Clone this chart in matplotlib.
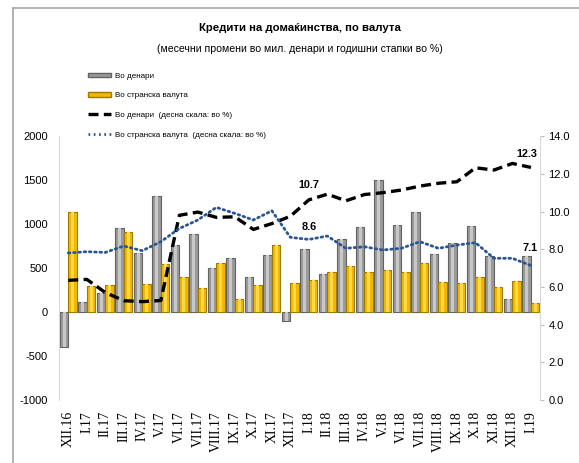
import matplotlib
matplotlib.use("Agg")
import matplotlib.pyplot as plt
import numpy as np
from matplotlib.lines import Line2D
from matplotlib.patches import Patch

categories = ["XII.16", "I.17", "II.17", "III.17", "IV.17", "V.17", "VI.17", "VII.17",
              "VIII.17", "IX.17", "X.17", "XI.17", "XII.17", "I.18", "II.18", "III.18",
              "IV.18", "V.18", "VI.18", "VII.18", "VIII.18", "IX.18", "X.18", "XI.18",
              "XII.18", "I.19"]
denar_change = [-400, 118, 222, 955, 672, 1315, 760, 888, 498, 618, 394, 650,
                -100, 722, 435, 833, 965, 1500, 990, 1143, 658, 790, 983, 636, 148, 642]
foreign_change = [1132, 297, 308, 915, 320, 550, 396, 270, 555, 143, 308, 765,
                  330, 370, 450, 526, 450, 473, 455, 560, 340, 328, 400, 290, 352, 100]
denar_growth = [6.35, 6.4, 5.7, 5.27, 5.22, 5.28, 9.8, 9.97, 9.69, 9.72, 9.05, 9.36,
                9.75, 10.62, 10.92, 10.57, 10.9, 11.0, 11.14, 11.35, 11.5, 11.58,
                12.32, 12.2, 12.55, 12.34]
foreign_growth = [7.8, 7.87, 7.83, 8.17, 7.92, 8.4, 9.1, 9.55, 10.22, 9.9, 9.55, 10.04,
                  8.63, 8.52, 8.7, 8.05, 8.13, 7.96, 8.05, 8.4, 8.05, 8.22, 8.35, 7.52,
                  7.52, 7.13]
left_ticks = [-1000, -500, 0, 500, 1000, 1500, 2000]
right_ticks = [0.0, 2.0, 4.0, 6.0, 8.0, 10.0, 12.0, 14.0]

title = "Кредити на домаќинства, по валута"
subtitle = "(месечни промени во мил. денари и годишни стапки во %)"
legend_labels = ["Во денари", "Во странска валута", "Во денари  (десна скала: во %)",
                 "Во странска валута  (десна скала: во %)"]

sans = ["Liberation Sans Narrow", "Liberation Sans", "DejaVu Sans"]
serif = ["Liberation Serif", "DejaVu Serif"]

fig = plt.figure(figsize=(5.79, 4.63), dpi=100)
ax = fig.add_axes([0.102, 0.136, 0.831, 0.570])
ax2 = ax.twinx()

x = np.arange(len(categories))
w = 0.46
gray_face, gray_edge, gray_light = "#9a9a9a", "#626262", "#c8c8c8"
gold_face, gold_edge, gold_light = "#f2b800", "#9c7a00", "#ffd84a"

ax.bar(x - w / 2, denar_change, width=w, color=gray_face, edgecolor=gray_edge, linewidth=0.8, zorder=2)
ax.bar(x - w / 2, denar_change, width=w * 0.35, color=gray_light, linewidth=0, zorder=3)
ax.bar(x + w / 2, foreign_change, width=w, color=gold_face, edgecolor=gold_edge, linewidth=0.8, zorder=2)
ax.bar(x + w / 2, foreign_change, width=w * 0.35, color=gold_light, linewidth=0, zorder=3)

ax.set_xlim(-0.5, len(categories) - 0.5)
ax.set_ylim(-1000, 2000)
ax.set_yticks(left_ticks)
ax.set_yticklabels([str(t) for t in left_ticks], family=sans, fontsize=8)
ax.tick_params(axis="y", length=0, pad=8)
ax.set_xticks(x)
ax.set_xticklabels(categories, rotation=90, family=serif, fontsize=10)
ax.tick_params(axis="x", length=0, pad=8)
for s in ["top", "right", "bottom"]:
    ax.spines[s].set_visible(False)
ax.spines["left"].set_color("#d9d9d9")

dash_style = (0, (3.0, 1.6))
dot_style = (0, (0.6, 1.3))
ax2.plot(x, denar_growth, color="black", linestyle=dash_style, linewidth=2.4, zorder=5)
ax2.plot(x, foreign_growth, color="#2a5592", linestyle=dot_style, linewidth=2.0,
         dash_capstyle="round", zorder=5)
ax2.set_ylim(0, 14)
ax2.set_yticks(right_ticks)
ax2.set_yticklabels([f"{t:.1f}" for t in right_ticks], family=sans, fontsize=8)
ax2.tick_params(axis="y", length=3, color="#bfbfbf", pad=3)
for s in ["top", "left", "bottom"]:
    ax2.spines[s].set_visible(False)
ax2.spines["right"].set_color("#d9d9d9")

ann = dict(family=sans, fontsize=7.8, fontweight="bold", ha="center", va="center", zorder=6)
i18 = categories.index("I.18")
i19 = categories.index("I.19")
ax2.text(x[i18], denar_growth[i18] + 0.78, f"{10.7:.1f}", **ann)
ax2.text(x[i18], foreign_growth[i18] + 0.65, f"{8.6:.1f}", **ann)
ax2.text(x[i19] - 0.25, denar_growth[i19] + 0.71, f"{12.3:.1f}", **ann)
ax2.text(x[i19] - 0.05, foreign_growth[i19] + 0.93, f"{7.1:.1f}", **ann)

fig.text(0.518, 0.94, title, ha="center", va="center", family=sans, fontsize=8.2, fontweight="bold")
fig.text(0.518, 0.894, subtitle, ha="center", va="center", family=sans, fontsize=7.6)

handles = [Patch(facecolor=gray_face, edgecolor=gray_edge),
           Patch(facecolor=gold_face, edgecolor=gold_edge),
           Line2D([0], [0], color="black", linestyle=dash_style, linewidth=2.4),
           Line2D([0], [0], color="#2a5592", linestyle=dot_style, linewidth=2.0)]
fig.legend(handles, legend_labels, loc="upper left", bbox_to_anchor=(0.145, 0.852),
           frameon=False, prop={"family": sans, "size": 5.8}, handlelength=2.9,
           handleheight=0.5, labelspacing=1.55, handletextpad=0.4, borderpad=0)

fig.add_artist(Line2D([0.023, 0.023], [0.0, 0.983], transform=fig.transFigure, color="#a6a6a6", linewidth=1.2))
fig.add_artist(Line2D([0.023, 1.0], [0.983, 0.983], transform=fig.transFigure, color="#a6a6a6", linewidth=1.2))

fig.savefig("out.png", dpi=100)
